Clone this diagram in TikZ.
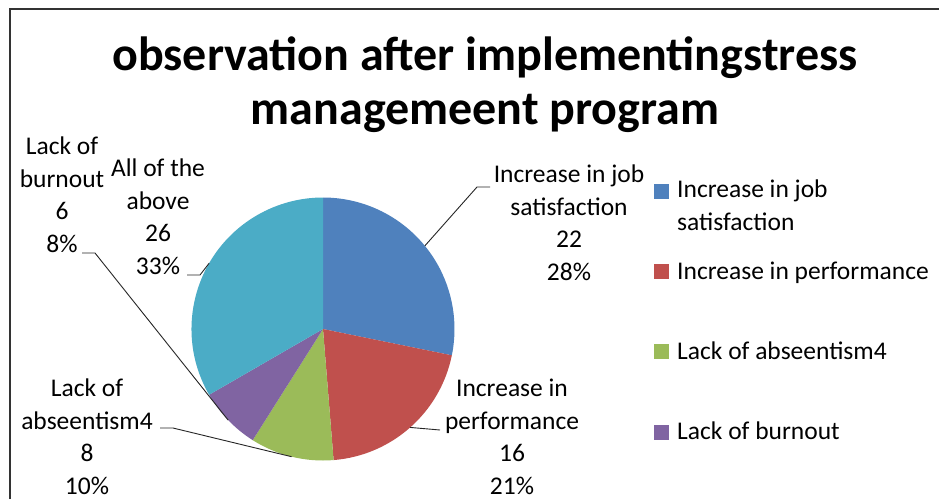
\documentclass[tikz,border=0pt]{standalone}
\usepackage{fontspec}
\setmainfont{Carlito}
\usetikzlibrary{calc, positioning}
\definecolor{jobblue}{HTML}{4F81BD}
\definecolor{perfred}{HTML}{C0504D}
\definecolor{absgreen}{HTML}{9BBB59}
\definecolor{burnpurple}{HTML}{8064A2}
\definecolor{allcyan}{HTML}{4BACC6}

\begin{document}
\begin{tikzpicture}[x=1pt,y=1pt]
\tikzstyle{pielabel}=[align=center, inner sep=0pt, anchor=north, font=\fontsize{25.5}{32.5}\selectfont]
\tikzstyle{leader}=[draw=black!85, line width=0.9pt]
\tikzstyle{legbox}=[minimum size=15pt, inner sep=0pt]
\tikzstyle{legtext}=[align=left, inner sep=0pt, anchor=north west, font=\fontsize{25.5}{32.5}\selectfont]

\useasboundingbox (0,0) rectangle (939,-499);
\fill[white] (0,0) rectangle (939,-499);
\draw[line width=1.8pt, black!80] (10,-499) -- (10,-9) -- (939,-9);

\node[align=center, inner sep=0pt, anchor=north, font=\bfseries\fontsize{48}{54}\selectfont] (title) at (485,-37)
  {observation after implementingstress\\managemeent program};

% pie
\coordinate (c) at (323,-329);
\fill[jobblue] (c) -- ++(90:131.5) arc (90:-11.54:131.5) -- cycle;
\fill[perfred] (c) -- ++(-11.54:131.5) arc (-11.54:-85.38:131.5) -- cycle;
\fill[absgreen] (c) -- ++(-85.38:131.5) arc (-85.38:-122.31:131.5) -- cycle;
\fill[burnpurple] (c) -- ++(-122.31:131.5) arc (-122.31:-150:131.5) -- cycle;
\fill[allcyan] (c) -- ++(-150:131.5) arc (-150:-270:131.5) -- cycle;

\coordinate (mjob) at ($(c)+(39.23:131.5)$);
\coordinate (mperf) at ($(c)+(-48.46:131.5)$);
\coordinate (mabs) at ($(c)+(-103.85:131.5)$);
\coordinate (mburn) at ($(c)+(-136.15:131.5)$);
\coordinate (mall) at ($(c)+(150:131.5)$);

% data labels
\node[pielabel] (ljob) at (569,-165) {Increase in job\\satisfaction\\22\\28\%};
\node[pielabel] (lperf) at (512,-379) {Increase in\\performance\\16\\21\%};
\node[pielabel] (labs) at (87,-379) {Lack of\\abseentism4\\8\\10\%};
\node[pielabel] (lburn) at (62,-137) {Lack of\\burnout\\6\\8\%};
\node[pielabel] (lall) at (158,-159) {All of the\\above\\26\\33\%};

\coordinate (kjob) at (490,-187);
\coordinate (kperf) at (440,-430);
\coordinate (kabs) at (160,-428);
\coordinate (kburn) at (82,-253);
\coordinate (kall) at (187,-275);

\draw[leader] (mjob) -- (477,-187) -- (kjob);
\draw[leader] (mperf) -- (kperf);
\draw[leader] (kabs) -- (173,-428) -- (mabs);
\draw[leader] (kburn) -- (95,-253) -- (mburn);
\draw[leader] (kall) -- (200,-275) -- (mall);

% legend
\node[legbox, fill=jobblue] (bjob) at (661.5,-191) {};
\node[legbox, fill=perfred] (bperf) at (661.5,-271) {};
\node[legbox, fill=absgreen] (babs) at (661.5,-351) {};
\node[legbox, fill=burnpurple] (bburn) at (661.5,-432) {};
\node[legtext] (tjob) at (677,-180) {Increase in job\\satisfaction};
\node[legtext] (tperf) at (677,-262) {Increase in performance};
\node[legtext] (tabs) at (677,-342) {Lack of abseentism4};
\node[legtext] (tburn) at (677,-422) {Lack of burnout};
\end{tikzpicture}
\end{document}
